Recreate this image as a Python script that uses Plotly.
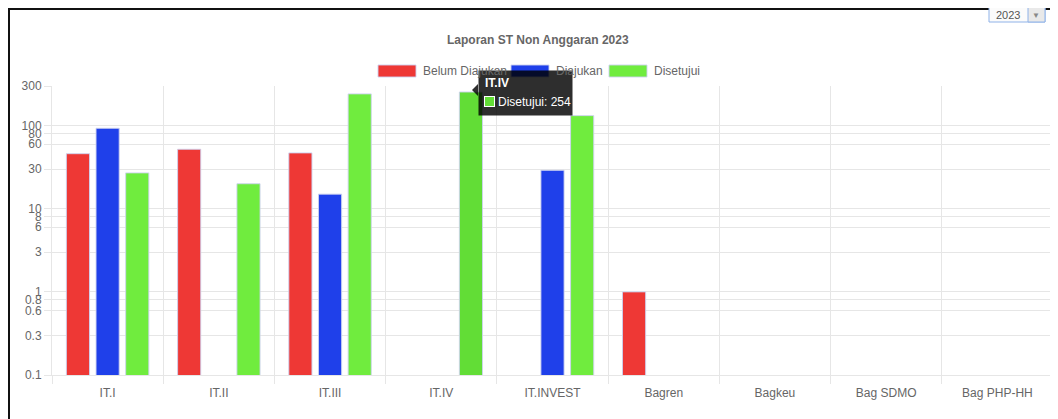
import plotly.graph_objects as go

categories = ["IT.I", "IT.II", "IT.III", "IT.IV", "IT.INVEST", "Bagren", "Bagkeu", "Bag SDMO", "Bag PHP-HH"]
belum_diajukan = [46, 52, 47, None, None, 1, None, None, None]
diajukan = [93, None, 15, None, 29, None, None, None, None]
disetujui = [27, 20, 241, 254, 132, None, None, None, None]
y_tick_vals = [0.1, 0.3, 0.6, 0.8, 1, 3, 6, 8, 10, 30, 60, 80, 100, 300]
y_tick_text = ["0.1", "0.3", "0.6", "0.8", "1", "3", "6", "8", "10", "30", "60", "80", "100", "300"]

RED = "rgb(238,56,53)"
BLUE = "rgb(31,64,234)"
GREEN = "rgb(112,236,62)"
GREEN_HOVER = "rgb(98,221,54)"
TXT = "#666666"
GRID = "#e6e6e6"
FONT = "Liberation Sans, Arial, sans-serif"

OFF = 8  # page body margin offset
W, H = 1058 - OFF, 419 - OFF
L, R, T, B = 52 - OFF, 5, 86 - OFF, 44
PW = W - L - R
PH = H - T - B


def xp(X):
    return (X - OFF - L) / PW


def yp(Y):
    return (H - B - (Y - OFF)) / PH


line = dict(color="rgba(205,210,240,0.9)", width=1)
fig = go.Figure()
fig.add_trace(go.Bar(name="Belum Diajukan", x=categories, y=belum_diajukan,
                     marker=dict(color=RED, line=line)))
fig.add_trace(go.Bar(name="Diajukan", x=categories, y=diajukan,
                     marker=dict(color=BLUE, line=line)))
green_colors = [GREEN_HOVER if c == "IT.IV" else GREEN for c in categories]
fig.add_trace(go.Bar(name="Disetujui", x=categories, y=disetujui,
                     marker=dict(color=green_colors, line=line)))

shapes = []
annotations = []

# outer frame
shapes.append(dict(type="rect", xref="paper", yref="paper",
                   x0=xp(9), x1=xp(1070), y0=yp(440), y1=yp(9),
                   line=dict(color="#111111", width=2), fillcolor="rgba(0,0,0,0)", layer="below"))

# title
annotations.append(dict(text="<b>Laporan ST Non Anggaran 2023</b>", xref="paper", yref="paper",
                        x=xp(538), y=yp(40), xanchor="center", yanchor="middle", showarrow=False,
                        font=dict(family=FONT, size=12, color=TXT)))

# custom legend swatches (chart.js style boxes)
legend_items = [("Belum Diajukan", RED, 378), ("Diajukan", BLUE, 511), ("Disetujui", GREEN, 609)]
for name, col, x0 in legend_items:
    shapes.append(dict(type="rect", xref="paper", yref="paper",
                       x0=xp(x0), x1=xp(x0 + 38), y0=yp(77), y1=yp(65),
                       fillcolor=col, line=dict(color="rgba(205,210,240,0.9)", width=1), layer="above"))

# dropdown "2023"
shapes.append(dict(type="rect", xref="paper", yref="paper",
                   x0=xp(989), x1=xp(1045), y0=yp(22), y1=yp(-3),
                   fillcolor="#fbfbfb", line=dict(color="#8fb2e8", width=1), layer="above"))
shapes.append(dict(type="rect", xref="paper", yref="paper",
                   x0=xp(1028), x1=xp(1045), y0=yp(22), y1=yp(-3),
                   fillcolor="#e9e9e9", line=dict(color="#8fb2e8", width=1), layer="above"))
annotations.append(dict(text="2023", xref="paper", yref="paper",
                        x=xp(1008), y=yp(15), xanchor="center", yanchor="middle", showarrow=False,
                        font=dict(family=FONT, size=11, color="#555555")))
annotations.append(dict(text="▼", xref="paper", yref="paper",
                        x=xp(1036), y=yp(15), xanchor="center", yanchor="middle", showarrow=False,
                        font=dict(family=FONT, size=8, color="#888888")))

# tooltip
shapes.append(dict(type="path", xref="paper", yref="paper",
                   path=f"M {xp(478)} {yp(84)} L {xp(472)} {yp(90)} L {xp(478)} {yp(96)} Z",
                   fillcolor="rgba(0,0,0,0.82)", line=dict(width=0), layer="above"))
annotations.append(dict(text=" ", xref="paper", yref="paper",
                        x=xp(478), y=yp(70), xanchor="left", yanchor="top", showarrow=False,
                        width=93, height=44, bgcolor="rgba(0,0,0,0.82)", borderpad=0,
                        font=dict(family=FONT, size=12, color="white")))

# legend labels (drawn over tooltip background like the reference)
for name, col, x0 in legend_items:
    annotations.append(dict(text=name, xref="paper", yref="paper",
                            x=xp(x0 + 43), y=yp(71), xanchor="left", yanchor="middle", showarrow=False,
                            font=dict(family=FONT, size=12, color=TXT)))

annotations.append(dict(text="<b>IT.IV</b>", xref="paper", yref="paper",
                        x=xp(483), y=yp(83), xanchor="left", yanchor="middle", showarrow=False,
                        font=dict(family=FONT, size=12, color="white")))
annotations.append(dict(text=" ", xref="paper", yref="paper",
                        x=xp(484), y=yp(96), xanchor="left", yanchor="top", showarrow=False,
                        width=9, height=9, bgcolor=GREEN_HOVER, bordercolor="white", borderwidth=1,
                        borderpad=0, font=dict(size=6)))
annotations.append(dict(text="Disetujui: 254", xref="paper", yref="paper",
                        x=xp(496), y=yp(102), xanchor="left", yanchor="middle", showarrow=False,
                        font=dict(family=FONT, size=12, color="white")))

fig.update_layout(
    width=W, height=H,
    margin=dict(l=L, r=R, t=T, b=B),
    paper_bgcolor="white", plot_bgcolor="white",
    barmode="group", bargap=0.2, bargroupgap=0.22,
    showlegend=False,
    hovermode=False,
    font=dict(family=FONT, size=12, color=TXT),
    shapes=shapes, annotations=annotations,
    xaxis=dict(type="category", tickson="boundaries", showgrid=True, gridcolor=GRID, gridwidth=1,
               ticks="outside", ticklen=8, tickcolor=GRID, showline=True, linecolor=GRID,
               ticklabelstandoff=7,
               tickfont=dict(family=FONT, size=12, color=TXT), fixedrange=True),
    yaxis=dict(type="log", range=[-1, 2.47712], tickvals=y_tick_vals, ticktext=y_tick_text,
               showgrid=True, gridcolor=GRID, gridwidth=1, ticks="outside", ticklen=7, tickcolor=GRID,
               showline=True, linecolor=GRID, zeroline=False,
               tickfont=dict(family=FONT, size=12, color=TXT), fixedrange=True),
)

fig.write_html("out.html", config={"displayModeBar": False})
